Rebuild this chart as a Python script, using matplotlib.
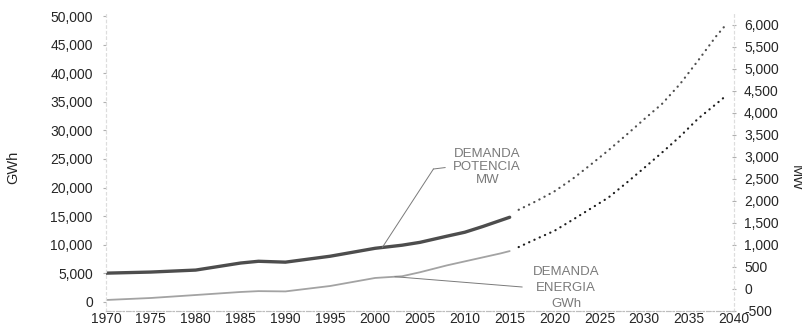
import numpy as np
import matplotlib
matplotlib.use("Agg")
from matplotlib import pyplot as plt
from matplotlib.ticker import FuncFormatter

plt.rcParams['font.family'] = ['Liberation Sans', 'DejaVu Sans']
plt.rcParams['axes.unicode_minus'] = False

# historical demand
YEARS = [1970, 1975, 1980, 1985, 1987, 1990, 1995, 2000, 2003, 2005, 2008, 2010, 2012, 2014, 2015]
ENERGY_GWH = [350, 700, 1220, 1750, 1900, 1850, 2800, 4200, 4500, 5200, 6400, 7100, 7800, 8500, 8900]
POWER_MW = [360, 385, 430, 590, 630, 610, 745, 925, 995, 1060, 1200, 1290, 1420, 1560, 1630]

# projection
YEARS_PROJ = [2016, 2018, 2020, 2022, 2024, 2026, 2028, 2030, 2032, 2034, 2036, 2038, 2039]
ENERGY_PROJ = [9600, 11050, 12450, 14350, 16300, 18250, 20800, 23450, 26150, 28950, 32050, 34600, 35900]
POWER_PROJ = [1800, 2000, 2220, 2500, 2820, 3150, 3500, 3860, 4210, 4660, 5190, 5740, 5980]

GWH_TICKS = list(range(0, 50001, 5000))
MW_TICKS = list(range(-500, 6001, 500))
YEAR_TICKS = list(range(1970, 2041, 5))

TXT = '#262626'
ANN = '#7a7a7a'

fig = plt.figure(figsize=(8.03, 3.28), dpi=100)
ax = fig.add_axes([0.132, 1 - 311 / 328, 0.782, (311 - 14) / 328])
ax2 = ax.twinx()

ax.set_xlim(1970, 2040)
ax.set_ylim(-1575, 50350)
ax2.set_ylim(-480, 6249)

# energy (left axis)
ax.plot(YEARS, ENERGY_GWH, color='#a3a3a3', lw=1.3, solid_capstyle='round')
ax.plot(YEARS_PROJ, ENERGY_PROJ, color='#1e1e1e', lw=1.6,
        ls=(0, (0.1, 2.5)), dash_capstyle='round')

# power (right axis)
ax2.plot(YEARS, POWER_MW, color='#4d4d4d', lw=2.4, solid_capstyle='round')
ax2.plot(YEARS_PROJ, POWER_PROJ, color='#505050', lw=1.6,
         ls=(0, (0.1, 2.5)), dash_capstyle='round')

fmt = FuncFormatter(lambda v, p: '{:,.0f}'.format(v))
ax.set_yticks(GWH_TICKS)
ax.yaxis.set_major_formatter(fmt)
ax2.set_yticks(MW_TICKS)
ax2.yaxis.set_major_formatter(fmt)
ax.set_xticks(YEAR_TICKS)

ax.tick_params(axis='y', length=2.5, pad=7, color='#b0b0b0', labelsize=10, labelcolor=TXT)
ax2.tick_params(axis='y', length=2.5, pad=6, color='#b0b0b0', labelsize=10, labelcolor=TXT,
                direction='inout')
ax.tick_params(axis='x', length=0, pad=1, labelsize=10, labelcolor=TXT)

for a in (ax, ax2):
    a.spines['top'].set_visible(False)
    a.spines['left'].set_color('#dddddd')
    a.spines['left'].set_linestyle((0, (2, 3)))
    a.spines['right'].set_color('#dddddd')
    a.spines['right'].set_linestyle((0, (2, 3)))
    a.spines['bottom'].set_color('#bdbdbd')
    a.spines['bottom'].set_linestyle((0, (4, 2, 1, 2)))
    a.spines['bottom'].set_linewidth(0.8)
    a.patch.set_visible(False)

fig.text(13 / 803, 1 - 167 / 328, 'GWh', rotation=90, ha='center', va='center',
         fontsize=10.5, color=TXT)
fig.text(796 / 803, 1 - 178 / 328, 'MW', rotation=270, ha='center', va='center',
         fontsize=10.5, color=TXT)

# label for the power curve, leader goes from the dark line up to the text
p_year = 2000.8
p_val = np.interp(p_year, YEARS, POWER_MW)
ax2.annotate('', xy=(p_year, p_val), xycoords='data',
             xytext=(2006.5, 23250), textcoords=ax.transData,
             arrowprops=dict(arrowstyle='-', color=ANN, lw=0.7,
                             shrinkA=0, shrinkB=0))
ax.plot([2006.5, 2007.8], [23250, 23500], color=ANN, lw=0.7)
ax.text(2012.5, 23600, 'DEMANDA\nPOTENCIA\nMW', ha='center', va='center',
        fontsize=9.5, color=ANN, linespacing=1.15)

# label for the energy curve
e_year = 2002.2
e_val = np.interp(e_year, YEARS, ENERGY_GWH)
ax.annotate('', xy=(e_year, e_val), xytext=(2016.4, 2620),
            arrowprops=dict(arrowstyle='-', color=ANN, lw=0.7,
                            shrinkA=0, shrinkB=0))
ax.text(2021.3, 2450, 'DEMANDA\nENERGIA\nGWh', ha='center', va='center',
        fontsize=9.5, color=ANN, linespacing=1.45)

fig.savefig('out.png', dpi=100, facecolor='white')
